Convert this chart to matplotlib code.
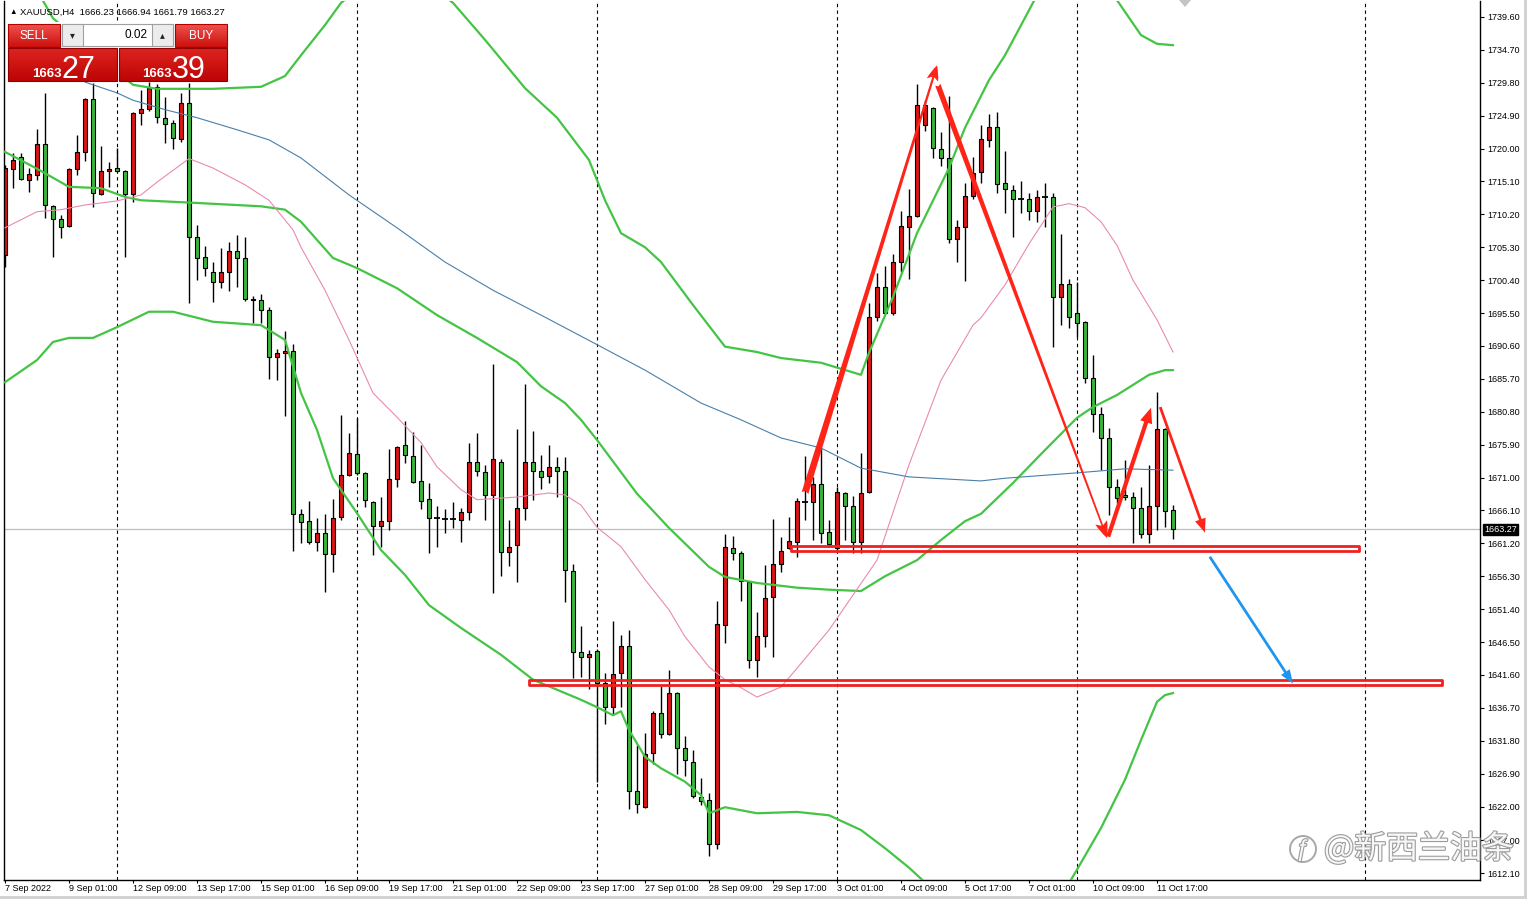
import matplotlib
matplotlib.use("Agg")
import matplotlib.pyplot as plt
import matplotlib.patches as mpatches
import matplotlib.patheffects as pe
import matplotlib.transforms as mtransforms
import numpy as np

plt.rcParams['font.family'] = ['Liberation Sans', 'DejaVu Sans']

# XAUUSD H4, 7 Sep 2022 17:00 -> 12 Oct 2022 01:00
opens = [1704.2, 1717.0, 1718.8, 1715.3, 1716.1, 1720.7, 1711.4, 1709.5, 1708.5, 1717.0,
         1719.5, 1727.4, 1713.2, 1716.7, 1717.1, 1716.7, 1713.2, 1725.3, 1725.9, 1729.2,
         1724.6, 1723.8, 1721.4, 1726.8, 1706.8, 1703.9, 1701.6, 1700.1, 1701.6, 1704.7,
         1703.7, 1697.4, 1697.4, 1696.0, 1689.0, 1689.6, 1689.8, 1665.6, 1664.5, 1661.4,
         1662.8, 1659.6, 1665.1, 1671.4, 1674.5, 1671.7, 1667.4, 1663.8, 1664.5, 1670.8,
         1675.9, 1674.2, 1670.5, 1667.8, 1665.0, 1664.9, 1664.8, 1664.7, 1665.9, 1673.3,
         1671.8, 1668.4, 1673.3, 1659.9, 1661.0, 1666.5, 1673.3, 1672.0, 1671.2, 1672.6,
         1672.0, 1657.1, 1645.0, 1644.3, 1645.2, 1640.4, 1636.8, 1641.9, 1645.9, 1624.3,
         1621.9, 1630.0, 1635.9, 1632.8, 1638.9, 1630.7, 1628.6, 1623.4, 1623.0, 1616.4,
         1649.0, 1660.5, 1659.8, 1655.4, 1643.8, 1647.4, 1653.2, 1658.1, 1660.5, 1661.4,
         1667.4, 1667.4, 1670.0, 1662.9, 1660.5, 1668.7, 1666.8, 1661.4, 1668.9, 1694.9,
         1699.4, 1695.5, 1703.1, 1708.3, 1710.0, 1723.5, 1726.0, 1719.9, 1718.6, 1706.5,
         1708.3, 1712.9, 1716.5, 1721.3, 1723.2, 1714.9, 1713.8, 1712.5, 1712.5, 1710.7,
         1712.8, 1712.8, 1697.9, 1699.8, 1695.5, 1694.2, 1685.8, 1680.5, 1676.9, 1669.6,
         1668.4, 1668.1, 1666.5, 1662.6, 1666.8, 1678.2, 1666.23]
highs = [1717.6, 1719.4, 1719.4, 1717.1, 1722.9, 1728.3, 1711.6, 1710.1, 1717.1, 1722.0,
         1727.6, 1729.8, 1720.4, 1718.0, 1720.1, 1716.8, 1725.4, 1728.7, 1729.9, 1729.6,
         1727.7, 1724.3, 1728.3, 1729.8, 1708.6, 1705.5, 1703.1, 1705.2, 1706.1, 1707.1,
         1706.8, 1698.0, 1698.3, 1696.4, 1690.2, 1692.9, 1690.9, 1666.3, 1667.5, 1665.0,
         1665.6, 1667.8, 1680.3, 1677.6, 1679.9, 1671.8, 1667.5, 1668.1, 1675.3, 1675.7,
         1679.4, 1677.8, 1675.9, 1670.2, 1666.8, 1666.3, 1667.4, 1666.5, 1676.2, 1677.6,
         1672.9, 1687.9, 1673.8, 1664.7, 1678.2, 1684.9, 1677.9, 1674.4, 1675.9, 1674.1,
         1674.1, 1658.1, 1648.9, 1645.3, 1645.5, 1641.9, 1649.6, 1647.5, 1648.3, 1631.2,
         1633.0, 1636.2, 1640.0, 1642.3, 1639.1, 1632.5, 1630.4, 1626.3, 1624.0, 1652.6,
         1662.6, 1662.3, 1660.1, 1655.6, 1651.0, 1658.0, 1664.8, 1662.2, 1665.1, 1668.0,
         1674.2, 1671.1, 1675.4, 1664.7, 1669.6, 1668.9, 1668.3, 1674.7, 1697.0, 1701.5,
         1702.5, 1704.3, 1710.7, 1714.0, 1729.6, 1727.2, 1726.2, 1722.5, 1727.8, 1709.4,
         1714.9, 1718.8, 1723.5, 1725.2, 1725.4, 1719.6, 1714.6, 1715.2, 1713.4, 1713.8,
         1714.9, 1713.4, 1707.3, 1700.6, 1700.1, 1694.3, 1689.3, 1681.5, 1678.4, 1670.8,
         1673.6, 1668.9, 1669.6, 1672.9, 1683.7, 1678.4, 1666.94]
lows = [1702.4, 1714.1, 1715.3, 1713.5, 1715.3, 1709.7, 1703.9, 1706.7, 1708.3, 1716.1,
        1718.2, 1711.3, 1713.1, 1714.3, 1716.5, 1703.9, 1712.0, 1723.5, 1725.6, 1723.8,
        1720.8, 1719.9, 1721.0, 1697.0, 1700.4, 1701.0, 1697.2, 1699.2, 1698.8, 1699.4,
        1697.3, 1694.0, 1694.0, 1685.7, 1685.5, 1680.2, 1660.1, 1661.3, 1661.1, 1660.1,
        1654.0, 1656.9, 1664.7, 1671.2, 1671.4, 1666.6, 1659.5, 1660.7, 1663.2, 1669.6,
        1673.2, 1670.2, 1666.3, 1659.8, 1660.7, 1662.8, 1663.5, 1661.4, 1664.7, 1671.2,
        1664.7, 1653.8, 1656.3, 1657.8, 1655.4, 1664.7, 1667.7, 1669.3, 1670.2, 1668.1,
        1652.5, 1641.1, 1641.3, 1639.5, 1625.7, 1634.3, 1635.8, 1636.8, 1621.6, 1621.0,
        1621.8, 1628.3, 1632.2, 1632.6, 1626.9, 1626.6, 1623.3, 1622.2, 1614.6, 1615.7,
        1646.4, 1658.7, 1652.6, 1642.6, 1641.3, 1645.8, 1644.3, 1656.9, 1660.4, 1659.2,
        1664.7, 1661.7, 1661.3, 1660.7, 1660.2, 1661.7, 1659.8, 1659.8, 1668.7, 1694.3,
        1695.4, 1695.2, 1701.6, 1700.6, 1709.8, 1722.6, 1718.6, 1717.4, 1705.9, 1703.1,
        1700.3, 1712.5, 1714.9, 1720.2, 1713.4, 1710.4, 1706.8, 1710.4, 1709.4, 1709.1,
        1708.3, 1690.4, 1693.7, 1693.3, 1691.9, 1685.1, 1677.8, 1672.1, 1665.4, 1667.2,
        1667.7, 1661.3, 1662.0, 1661.3, 1663.2, 1663.6, 1661.79]
closes = [1717.1, 1718.3, 1715.5, 1716.2, 1720.7, 1711.6, 1709.5, 1708.3, 1717.0, 1719.5,
          1727.4, 1713.4, 1716.7, 1717.0, 1716.7, 1713.2, 1725.3, 1725.9, 1729.0, 1724.7,
          1723.7, 1721.6, 1726.8, 1706.8, 1703.7, 1702.2, 1700.1, 1701.6, 1704.7, 1703.7,
          1697.6, 1697.6, 1696.0, 1689.0, 1689.6, 1689.8, 1665.6, 1664.4, 1661.4, 1662.8,
          1659.6, 1665.0, 1671.4, 1674.7, 1671.7, 1667.7, 1663.8, 1664.5, 1670.8, 1675.6,
          1674.4, 1670.3, 1667.5, 1665.0, 1664.9, 1664.8, 1664.9, 1665.9, 1673.3, 1672.0,
          1668.4, 1673.8, 1659.9, 1660.7, 1666.5, 1673.3, 1672.0, 1671.1, 1672.6, 1672.0,
          1657.2, 1645.0, 1644.3, 1644.7, 1640.4, 1636.8, 1641.7, 1645.9, 1624.3, 1622.4,
          1629.8, 1635.9, 1632.8, 1638.9, 1630.7, 1628.9, 1623.6, 1622.8, 1616.4, 1649.2,
          1660.7, 1659.8, 1655.6, 1643.8, 1647.4, 1653.1, 1658.1, 1660.1, 1661.6, 1667.5,
          1667.4, 1670.0, 1662.8, 1661.1, 1668.9, 1666.8, 1661.4, 1668.7, 1694.9, 1699.4,
          1695.5, 1703.1, 1708.5, 1710.0, 1726.5, 1726.5, 1720.1, 1718.6, 1706.5, 1708.3,
          1712.9, 1716.4, 1721.4, 1723.2, 1714.7, 1714.0, 1712.5, 1712.4, 1710.7, 1712.8,
          1712.7, 1697.9, 1699.8, 1694.9, 1694.0, 1685.8, 1680.5, 1676.9, 1669.6, 1668.0,
          1668.1, 1666.5, 1662.6, 1666.8, 1678.2, 1666.0, 1663.27]
ask_price = 1663.39
lot_size = "0.02"

time_labels = ["7 Sep 2022", "9 Sep 01:00", "12 Sep 09:00", "13 Sep 17:00", "15 Sep 01:00",
               "16 Sep 09:00", "19 Sep 17:00", "21 Sep 01:00", "22 Sep 09:00", "23 Sep 17:00",
               "27 Sep 01:00", "28 Sep 09:00", "29 Sep 17:00", "3 Oct 01:00", "4 Oct 09:00",
               "5 Oct 17:00", "7 Oct 01:00", "10 Oct 09:00", "11 Oct 17:00"]
price_ticks = [1739.6, 1734.7, 1729.8, 1724.9, 1720.0, 1715.1, 1710.2, 1705.3, 1700.4,
               1695.5, 1690.6, 1685.7, 1680.8, 1675.9, 1671.0, 1666.1, 1661.2, 1656.3,
               1651.4, 1646.5, 1641.6, 1636.7, 1631.8, 1626.9, 1622.0, 1617.0, 1612.1]
week_separators = [14, 44, 74, 104, 134, 170]

# indicator lines: candle index -> price
bb_upper_idx = [4, 6, 16, 19, 26, 32, 35, 37, 40, 42, 49, 56, 60, 65, 69, 73, 75, 77, 80, 82,
                86, 90, 94, 97, 102, 107, 108, 111, 114, 118, 120, 123, 125, 128, 130, 135, 139,
                142, 144, 146]
bb_upper = [1743.6, 1739.4, 1729.5, 1728.9, 1728.9, 1729.2, 1730.8, 1733.9, 1738.4, 1741.7,
            1748.1, 1741.7, 1736.2, 1729.0, 1724.6, 1718.3, 1712.3, 1707.4, 1705.3, 1703.1,
            1696.7, 1690.5, 1689.7, 1688.8, 1688.1, 1686.3, 1689.6, 1697.9, 1707.4, 1717.1,
            1723.1, 1730.2, 1733.9, 1740.6, 1745.1, 1749.6, 1742.1, 1736.9, 1735.6, 1735.4]
bb_mid_idx = [0, 4, 8, 12, 15, 17, 24, 32, 35, 37, 41, 44, 49, 54, 59, 64, 67, 70, 72, 74,
              79, 83, 88, 90, 94, 99, 103, 107, 110, 114, 117, 120, 122, 126, 130, 134, 136,
              139, 143, 145, 146]
bb_mid = [1719.5, 1717.0, 1714.3, 1714.1, 1712.8, 1712.3, 1711.9, 1711.4, 1710.9, 1709.1,
          1703.7, 1702.2, 1699.2, 1695.2, 1691.8, 1688.2, 1684.6, 1682.1, 1679.6, 1676.6,
          1668.6, 1663.5, 1657.7, 1656.2, 1655.3, 1654.6, 1654.3, 1654.1, 1656.3, 1658.7,
          1661.7, 1664.5, 1665.6, 1670.2, 1675.1, 1679.9, 1681.5, 1683.3, 1686.3, 1687.0, 1687.0]
bb_lower_idx = [0, 4, 6, 8, 11, 14, 18, 21, 26, 32, 35, 37, 39, 41, 44, 47, 50, 53, 57, 62,
                66, 69, 72, 74, 76, 77, 78, 80, 82, 85, 87, 88, 90, 94, 99, 103, 107, 110, 113,
                116, 125, 131, 134, 137, 140, 142, 144, 145, 146]
bb_lower = [1685.2, 1688.5, 1691.2, 1691.8, 1691.8, 1693.4, 1695.7, 1695.7, 1694.2, 1693.7,
            1691.5, 1683.6, 1678.1, 1670.9, 1665.7, 1660.2, 1656.5, 1652.0, 1648.6, 1644.6,
            1640.9, 1639.4, 1637.9, 1636.8, 1635.6, 1636.2, 1633.4, 1629.4, 1627.7, 1625.7,
            1623.7, 1621.0, 1621.9, 1621.0, 1621.2, 1620.7, 1618.5, 1615.8, 1612.9, 1609.6,
            1599.2, 1606.6, 1612.6, 1618.8, 1626.0, 1631.9, 1637.6, 1638.6, 1638.9]
ma_fast_idx = [0, 4, 7, 10, 14, 17, 19, 23, 26, 30, 33, 36, 37, 40, 43, 46, 49, 52, 54, 57,
               59, 64, 68, 70, 72, 74, 77, 80, 83, 85, 88, 90, 92, 94, 97, 99, 103, 106, 109,
               113, 117, 121, 122, 125, 128, 131, 133, 135, 137, 139, 141, 144, 146]
ma_fast = [1708.2, 1710.6, 1710.9, 1711.6, 1712.2, 1713.1, 1715.0, 1718.5, 1717.1, 1714.6,
           1712.3, 1707.9, 1705.3, 1698.9, 1691.5, 1683.6, 1680.0, 1676.2, 1672.6, 1669.2,
           1667.7, 1668.1, 1668.7, 1668.4, 1666.9, 1663.6, 1660.7, 1655.8, 1651.3, 1647.3,
           1642.8, 1640.9, 1639.7, 1638.3, 1639.8, 1642.6, 1648.3, 1653.5, 1658.7, 1672.9,
           1685.5, 1693.7, 1694.8, 1699.7, 1705.8, 1711.3, 1711.8, 1711.2, 1709.1, 1705.6,
           1700.4, 1694.5, 1689.7]
ma_slow_idx = [10, 14, 16, 20, 24, 29, 33, 37, 43, 49, 55, 61, 67, 74, 80, 87, 92, 97, 102,
               107, 113, 122, 125, 134, 140, 146]
ma_slow = [1729.9, 1728.3, 1727.2, 1725.8, 1724.6, 1722.8, 1721.3, 1718.6, 1713.1, 1708.2,
           1703.1, 1698.9, 1695.2, 1690.8, 1687.0, 1682.1, 1679.6, 1676.9, 1675.4, 1672.4,
           1671.1, 1670.5, 1670.9, 1671.7, 1672.3, 1672.1]

# hand drawn objects: (candle index, price)
support_high = (98.3, 169.2, 1660.43)
support_low = (65.55, 179.6, 1640.48)
arrow_rally = ((100.0, 1668.7), (116.5, 1732.4))
arrow_drop = ((116.6, 1729.5), (137.75, 1662.0))
arrow_bounce = ((137.9, 1662.2), (143.25, 1681.4))
arrow_fall = ((144.4, 1681.5), (150.0, 1662.8))
arrow_target = ((150.6, 1659.2), (161.0, 1640.3))

RED = '#dc1414'
GREEN = '#3cb43c'
BAND = '#44c444'

fig = plt.figure(figsize=(15.3, 9), dpi=100)
fig.patch.set_facecolor('white')
ax = fig.add_axes([4 / 1530, 20 / 900, 1476 / 1530, 879 / 900])
ax.set_xlim(-0.125, 184.375)
ax.set_ylim(1611.06, 1741.98)

o = np.array(opens)
h = np.array(highs)
l = np.array(lows)
c = np.array(closes)
x = np.arange(len(c))

for s in week_separators:
    ax.axvline(s, color='black', lw=0.8, ls=(0, (3, 3)), zorder=0.5)
ax.axhline(c[-1], color='#bdbdbd', lw=0.9, zorder=1)

ax.vlines(x, l, h, color='black', lw=1, zorder=2)
body = np.abs(c - o)
solid = body >= 0.15
cols = np.where(c > o, RED, GREEN)
ax.bar(x[solid], body[solid], bottom=np.minimum(o, c)[solid], width=0.62,
       color=cols[solid], edgecolor='black', linewidth=0.8, zorder=2.5)
ax.hlines(o[~solid], x[~solid] - 0.35, x[~solid] + 0.35, color='black', lw=1.3, zorder=2.5)

ax.plot(bb_upper_idx, bb_upper, color=BAND, lw=1.6, zorder=3)
ax.plot(bb_mid_idx, bb_mid, color=BAND, lw=1.6, zorder=3)
ax.plot(bb_lower_idx, bb_lower, color=BAND, lw=1.6, zorder=3)
ax.plot(ma_fast_idx, ma_fast, color='#e88ab4', lw=0.8, zorder=3)
ax.plot(ma_slow_idx, ma_slow, color='#4a7fa8', lw=0.8, zorder=3)

for x0, x1, lvl in (support_high, support_low):
    ax.add_patch(mpatches.Rectangle((x0, lvl - 0.325), x1 - x0, 0.65, fill=False,
                                    ec='#f02020', lw=2.0, joinstyle='round', zorder=5))

for (p0, p1), style, col in [
        ((arrow_rally), 'fancy,head_length=1.1,head_width=0.85,tail_width=0.5', '#ff2418'),
        ((arrow_drop), 'fancy,head_length=1.2,head_width=0.9,tail_width=0.4', '#ff2418'),
        ((arrow_bounce), 'simple,head_length=1.1,head_width=0.9,tail_width=0.3', '#ff2418'),
        ((arrow_fall), 'simple,head_length=1.0,head_width=0.8,tail_width=0.2', '#ff2418'),
        ((arrow_target), 'simple,head_length=1.0,head_width=0.75,tail_width=0.2', '#1e96f0')]:
    ax.add_patch(mpatches.FancyArrowPatch(p0, p1, arrowstyle=style, mutation_scale=10,
                                          fc=col, ec='none', shrinkA=0, shrinkB=0, zorder=6))

ax.yaxis.tick_right()
ax.set_yticks(price_ticks)
ax.set_yticklabels([f"{v:.2f}" for v in price_ticks])
ax.set_xticks(x[::8][:len(time_labels)])
ax.set_xticklabels(time_labels, ha='left')
ax.tick_params(axis='y', length=3, width=0.8, pad=2, labelsize=6.5)
ax.tick_params(axis='x', length=2, width=0.8, pad=1, labelsize=6.5)
ax.spines['top'].set_visible(False)
for side in ('left', 'right', 'bottom'):
    ax.spines[side].set_linewidth(1)

tr = mtransforms.blended_transform_factory(ax.transAxes, ax.transData)
ax.text(1.0028, c[-1], f"{c[-1]:.2f}", transform=tr, ha='left', va='center', fontsize=6.5,
        color='white', bbox=dict(boxstyle='square,pad=0.15', fc='black', ec='black'), zorder=7)

# overlay in pixel units: trade panel, header, watermark
ov = fig.add_axes([0, 0, 1, 1])
ov.axis('off')


def grad_box(x0, y0, x1, y1, top, bot, edge):
    t = np.linspace(0, 1, 32)[:, None, None]
    img = np.array(top)[None, None, :] * (1 - t) + np.array(bot)[None, None, :] * t
    ov.imshow(img, extent=(x0, x1, y1, y0), aspect='auto', interpolation='bilinear', zorder=2)
    ov.add_patch(mpatches.Rectangle((x0, y0), x1 - x0, y1 - y0, fill=False, ec=edge, lw=0.8, zorder=3))


ov.add_patch(mpatches.Rectangle((7, 22), 222, 60, fc='white', ec='none', zorder=1))
grad_box(8, 24, 60, 47, (0.94, 0.32, 0.30), (0.80, 0.07, 0.06), '#b00000')
grad_box(175, 24, 227, 47, (0.94, 0.32, 0.30), (0.80, 0.07, 0.06), '#b00000')
grad_box(8, 48, 117, 81, (0.87, 0.14, 0.12), (0.74, 0.02, 0.02), '#900000')
grad_box(119, 48, 227, 81, (0.87, 0.14, 0.12), (0.74, 0.02, 0.02), '#900000')
ov.add_patch(mpatches.Rectangle((62, 24), 111, 22, fc='white', ec='#a0a0a0', lw=0.8, zorder=2))
ov.add_patch(mpatches.Rectangle((62, 24), 21, 22, fc='#ececec', ec='#a0a0a0', lw=0.8, zorder=3))
ov.add_patch(mpatches.Rectangle((152, 24), 21, 22, fc='#ececec', ec='#a0a0a0', lw=0.8, zorder=3))
ov.text(34, 36, "SELL", color='white', fontsize=8.5, ha='center', va='center', zorder=4)
ov.text(201, 36, "BUY", color='white', fontsize=8.5, ha='center', va='center', zorder=4)
ov.text(72.5, 35, "▾", fontsize=7, ha='center', va='center', color='#222222', zorder=4)
ov.text(162.5, 35, "▴", fontsize=7, ha='center', va='center', color='#222222', zorder=4)
ov.text(148, 35.5, lot_size, fontsize=8.5, ha='right', va='center', zorder=4)
bid_s = f"{c[-1]:.2f}"
ask_s = f"{ask_price:.2f}"
ov.text(32, 77, bid_s[:4], fontsize=9.5, weight='bold', color='white', va='baseline', zorder=4)
ov.text(62, 78, bid_s[-2:], fontsize=22, color='white', va='baseline', zorder=4)
ov.text(142, 77, ask_s[:4], fontsize=9.5, weight='bold', color='white', va='baseline', zorder=4)
ov.text(172, 78, ask_s[-2:], fontsize=22, color='white', va='baseline', zorder=4)

ov.text(9, 12.5, "▲", fontsize=5.5, ha='left', va='center', zorder=4)
ov.text(20, 12.5, f"XAUUSD,H4  {o[-1]:.2f} {h[-1]:.2f} {l[-1]:.2f} {c[-1]:.2f}",
        fontsize=6.8, ha='left', va='center', zorder=4)

ov.add_patch(mpatches.Polygon([[1179, 0], [1191, 0], [1185, 7]], fc='#c4c4c4', ec='none'))
ov.plot([1525, 1525], [0, 897], color='#d0d0d0', lw=2)
ov.plot([0, 1525], [897, 897], color='#d0d0d0', lw=2)

# watermark: light fill with grey outline
emboss = [pe.withStroke(linewidth=1.6, foreground='#9c9c9c')]
ov.add_patch(mpatches.Circle((1303, 849), 13, fill=False, ec='#a8a8a8', lw=1.4, zorder=9))
ov.text(1303, 850, "ƒ", fontsize=17, ha='center', va='center', color='#f7f7f7',
        path_effects=emboss, zorder=10)
ov.text(1324, 849, "@新西兰油条", fontsize=23, family=['Noto Sans CJK SC', 'DejaVu Sans'],
        ha='left', va='center', color='#f7f7f7', path_effects=emboss, zorder=10)

ov.set_xlim(0, 1530)
ov.set_ylim(900, 0)

fig.savefig('out.png', dpi=100)
